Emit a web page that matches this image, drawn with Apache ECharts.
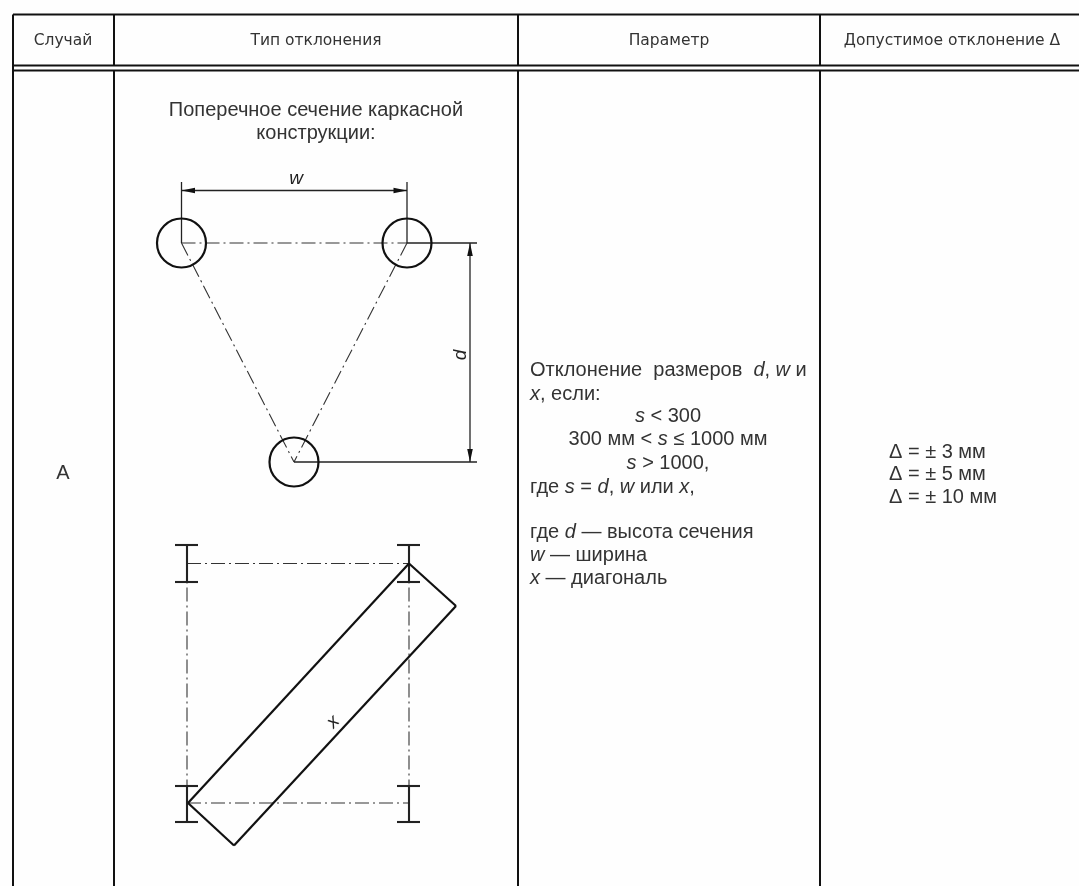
<!DOCTYPE html>
<html lang="ru">
<head>
    <meta charset="UTF-8">
    <title>Допустимые отклонения</title>
    <script src="https://fastly.jsdelivr.net/npm/echarts@6/dist/echarts.min.js"></script>
    <style>
        html, body { margin: 0; padding: 0; background: #fff; }
        #main { width: 1079px; height: 886px; filter: blur(0.5px); }
    </style>
</head>
<body>
<div id="main"></div>
<script>
    // table rules, [x1, y1, x2, y2]
    var tableRules = [
        [13, 14.5, 1079, 14.5], [13, 65.5, 1079, 65.5], [13, 70.5, 1079, 70.5],
        [13, 14.5, 13, 886], [114, 14.5, 114, 65.5], [114, 70.5, 114, 886],
        [518, 14.5, 518, 65.5], [518, 70.5, 518, 886], [820, 14.5, 820, 65.5], [820, 70.5, 820, 886]
    ];
    // section drawing
    var circleCentres = [[181.5, 243, 24.5], [407, 243, 24.5], [294, 462, 24.5]];
    var dimensionLines = [
        [181.5, 182, 181.5, 243], [407, 182, 407, 243], [181.5, 190.5, 407, 190.5],
        [407, 243, 477, 243], [294, 462, 477, 462], [470, 243, 470, 462]
    ];
    var centreLines = [
        [181.5, 243, 407, 243], [181.5, 243, 294, 462], [407, 243, 294, 462],
        [187, 563.5, 409, 563.5], [187, 563.5, 187, 803], [409, 563.5, 409, 803], [187, 803, 409, 803]
    ];
    var arrowHeads = [
        [181.5, 190.5, 195, 190.5], [407, 190.5, 393.5, 190.5],
        [470, 243, 470, 256], [470, 462, 470, 449]
    ];
    // plan drawing
    var beamLines = [
        [175, 545, 198, 545], [175, 582, 198, 582], [187, 545, 187, 582],
        [397, 545, 420, 545], [397, 582, 420, 582], [409, 545, 409, 582],
        [175, 786, 198, 786], [175, 822, 198, 822], [187, 786, 187, 822],
        [397, 786, 420, 786], [397, 822, 420, 822], [409, 786, 409, 822]
    ];
    var diagonalBox = [
        [188, 803, 409, 563.5], [409, 563.5, 456, 606], [456, 606, 234, 845.5], [234, 845.5, 188, 803]
    ];
    // texts
    var headerLabels = ['Случай', 'Тип отклонения', 'Параметр', 'Допустимое отклонение Δ'];
    var headerAnchors = [[63, 41], [316, 41], [669, 41], [952, 41]];
    var titleLabels = ['Поперечное сечение каркасной', 'конструкции:', 'А'];
    var titleAnchors = [[316, 110], [316, 133], [63, 473]];
    var paramLabels = [
        'Отклонение  размеров  {i|d}, {i|w} и',
        '{i|x}, если:',
        '{i|s} < 300',
        '300 мм < {i|s} ≤ 1000 мм',
        '{i|s} > 1000,',
        'где {i|s} = {i|d}, {i|w} или {i|x},',
        'где {i|d} — высота сечения',
        '{i|w} — ширина',
        '{i|x} — диагональ'
    ];
    var paramAnchors = [
        [530, 370, 0], [530, 394, 0], [668, 416, 1], [668, 439, 1], [668, 463, 1],
        [530, 487, 0], [530, 532, 0], [530, 555, 0], [530, 578, 0]
    ];
    var toleranceLabels = ['Δ = ± 3 мм', 'Δ = ± 5 мм', 'Δ = ± 10 мм'];
    var toleranceAnchors = [[889, 452], [889, 474], [889, 497]];
    var dimensionLabels = ['w', 'd', 'x'];
    var dimensionAnchors = [[296, 179, 0], [461, 355, 90], [333, 722, 45]];

    var FONT = '"Liberation Sans", Arial, sans-serif';
    var INK = '#111';
    var TEXT = '#333';

    function segmentSeries(rows, width, color, dash) {
        return {
            type: 'custom', coordinateSystem: 'cartesian2d', clip: false, silent: true,
            data: rows, encode: { x: [0, 2], y: [1, 3] },
            renderItem: function (params, api) {
                var a = api.coord([api.value(0), api.value(1)]);
                var b = api.coord([api.value(2), api.value(3)]);
                return {
                    type: 'line',
                    shape: { x1: a[0], y1: a[1], x2: b[0], y2: b[1] },
                    style: { stroke: color, lineWidth: width, lineDash: dash || null }
                };
            }
        };
    }

    function textSeries(labels, rows, fontSize, color, fontFamily, opts) {
        opts = opts || {};
        return {
            type: 'custom', coordinateSystem: 'cartesian2d', clip: false, silent: true,
            data: rows, encode: { x: 0, y: 1 },
            renderItem: function (params, api) {
                var p = api.coord([api.value(0), api.value(1)]);
                var row = rows[params.dataIndex];
                var align = opts.align || 'center';
                if (opts.alignColumn) align = row[2] ? 'center' : 'left';
                var el = {
                    type: 'text', x: p[0], y: p[1],
                    style: {
                        text: labels[params.dataIndex],
                        font: (opts.italic ? 'italic ' : '') + fontSize + 'px ' + fontFamily,
                        fill: color, align: align, verticalAlign: 'middle',
                        rich: { i: { font: 'italic ' + fontSize + 'px ' + fontFamily, fill: color } }
                    }
                };
                if (opts.rotateColumn) {
                    el.rotation = row[2] * Math.PI / 180;
                }
                return el;
            }
        };
    }

    var myChart = echarts.init(document.getElementById('main'));
    var option = {
        animation: false,
        backgroundColor: '#fefefe',
        grid: { left: 0, right: 0, top: 0, bottom: 0 },
        xAxis: { type: 'value', min: 0, max: 1079, show: false },
        yAxis: { type: 'value', min: 0, max: 886, inverse: true, show: false },
        series: [
            segmentSeries(tableRules, 2, INK),
            segmentSeries(centreLines, 1.1, '#333', [14, 4, 2, 4]),
            segmentSeries(dimensionLines, 1.3, '#222'),
            segmentSeries(beamLines, 2.1, '#222'),
            segmentSeries(diagonalBox, 2.2, INK),
            {
                type: 'custom', coordinateSystem: 'cartesian2d', clip: false, silent: true,
                data: circleCentres, encode: { x: 0, y: 1 },
                renderItem: function (params, api) {
                    var c = api.coord([api.value(0), api.value(1)]);
                    var r = api.size([api.value(2), 0])[0];
                    return {
                        type: 'circle',
                        shape: { cx: c[0], cy: c[1], r: r },
                        style: { fill: 'none', stroke: INK, lineWidth: 2.2 }
                    };
                }
            },
            {
                type: 'custom', coordinateSystem: 'cartesian2d', clip: false, silent: true,
                data: arrowHeads, encode: { x: [0, 2], y: [1, 3] },
                renderItem: function (params, api) {
                    var tip = api.coord([api.value(0), api.value(1)]);
                    var base = api.coord([api.value(2), api.value(3)]);
                    var vertical = tip[0] === base[0];
                    var half = 2.8;
                    return {
                        type: 'polygon',
                        shape: {
                            points: [tip,
                                [base[0] + (vertical ? half : 0), base[1] + (vertical ? 0 : half)],
                                [base[0] - (vertical ? half : 0), base[1] - (vertical ? 0 : half)]]
                        },
                        style: { fill: '#111' }
                    };
                }
            },
            textSeries(headerLabels, headerAnchors, 15.5, TEXT, '"DejaVu Sans", sans-serif'),
            textSeries(titleLabels, titleAnchors, 20, TEXT, FONT),
            textSeries(paramLabels, paramAnchors, 20, TEXT, FONT, { alignColumn: true }),
            textSeries(toleranceLabels, toleranceAnchors, 20, TEXT, FONT, { align: 'left' }),
            textSeries(dimensionLabels, dimensionAnchors, 19, '#222', FONT, { italic: true, rotateColumn: true })
        ]
    };
    myChart.setOption(option);
</script>
</body>
</html>
